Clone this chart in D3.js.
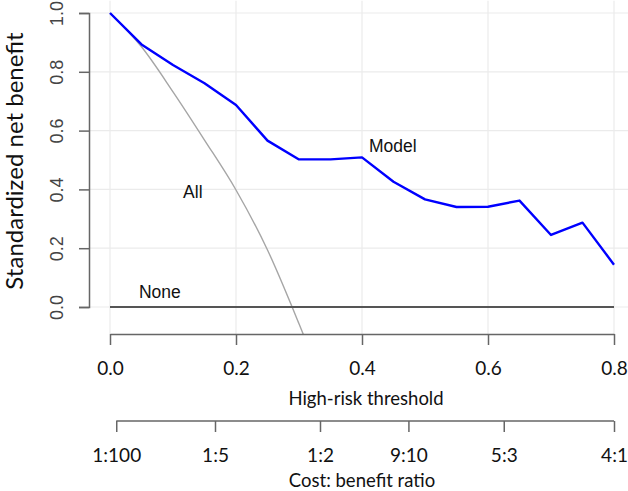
<!DOCTYPE html>
<html>
<head>
<meta charset="utf-8">
<script src="https://cdn.jsdelivr.net/npm/d3@7"></script>
<style>
  body { margin: 0; background: #fff; }
  svg { display: block; }
</style>
</head>
<body>
<svg id="chart" width="628" height="491"></svg>
<script>
// thresholds where the model net benefit was evaluated
const thresholds = [0, 0.05, 0.1, 0.15, 0.2, 0.25, 0.3, 0.35, 0.4, 0.45, 0.5, 0.55, 0.6, 0.65, 0.7, 0.75, 0.8];
const modelNB = [1.0, 0.893, 0.823, 0.761, 0.687, 0.566, 0.502, 0.502, 0.509, 0.426, 0.366, 0.340, 0.341, 0.362, 0.245, 0.287, 0.144];
// treat-all curve (runs off the bottom of the plot)
const allThresholds = [0, 0.05, 0.1, 0.15, 0.2, 0.25, 0.3, 0.35];
const allNB = [1.0, 0.885, 0.732, 0.568, 0.398, 0.194, -0.057, -0.33];
const noneThresholds = [0, 0.8];
const noneNB = [0, 0];

const xTicks = [0, 0.2, 0.4, 0.6, 0.8];
const yTicks = [0, 0.2, 0.4, 0.6, 0.8, 1.0];
const costBenefitLabels = ["1:100", "1:5", "1:2", "9:10", "5:3", "4:1"];

const svg = d3.select("#chart");

const x = d3.scaleLinear().domain([0, 0.8]).range([110, 614]);
const y = d3.scaleLinear().domain([0, 1]).range([307, 13]);

// plot region (R style 4% extension)
const px0 = x(-0.032), px1 = x(0.832);
const py0 = y(1.042), py1 = y(-0.092);

svg.append("clipPath").attr("id", "plotclip")
  .append("rect")
  .attr("x", px0).attr("y", py0)
  .attr("width", px1 - px0).attr("height", py1 - py0);

// grid
const grid = svg.append("g").attr("stroke", "#ebebeb").attr("stroke-width", 1.2);
grid.selectAll(".gy").data(yTicks).enter().append("line")
  .attr("x1", px0).attr("x2", px1)
  .attr("y1", d => y(d)).attr("y2", d => y(d));
grid.selectAll(".gx").data(xTicks).enter().append("line")
  .attr("x1", d => x(d)).attr("x2", d => x(d))
  .attr("y1", py0).attr("y2", py1);

const line = d3.line()
  .x(d => x(d[0]))
  .y(d => y(d[1]));

const plot = svg.append("g").attr("clip-path", "url(#plotclip)");

plot.append("path")
  .datum(allThresholds.map((t, i) => [t, allNB[i]]))
  .attr("d", line.curve(d3.curveMonotoneX))
  .attr("fill", "none")
  .attr("stroke", "#a6a6a6")
  .attr("stroke-width", 1.4);
line.curve(d3.curveLinear);

plot.append("path")
  .datum(noneThresholds.map((t, i) => [t, noneNB[i]]))
  .attr("d", line)
  .attr("fill", "none")
  .attr("stroke", "#555")
  .attr("stroke-width", 2);

plot.append("path")
  .datum(thresholds.map((t, i) => [t, modelNB[i]]))
  .attr("d", line)
  .attr("fill", "none")
  .attr("stroke", "#0000ff")
  .attr("stroke-width", 2.4)
  .attr("stroke-linejoin", "round");

// curve labels
const labels = svg.append("g")
  .attr("font-family", "'Liberation Sans', Arial, sans-serif")
  .attr("font-size", 17.5)
  .attr("fill", "#111");
labels.append("text").attr("x", x(0.411)).attr("y", y(0.527)).text("Model");
labels.append("text").attr("x", x(0.116)).attr("y", y(0.371)).text("All");
labels.append("text").attr("x", x(0.046)).attr("y", y(0.032)).text("None");

// y axis
const yAxis = svg.append("g")
  .attr("transform", "translate(89,0)")
  .call(d3.axisLeft(y).tickValues(yTicks).tickSize(10).tickFormat(d3.format(".1f")));
yAxis.select(".domain").attr("stroke", "#666").attr("stroke-width", 1.5);
yAxis.selectAll(".tick line").attr("stroke", "#666").attr("stroke-width", 1.5);
yAxis.selectAll(".tick text")
  .attr("font-family", "'Liberation Sans', Arial, sans-serif")
  .attr("font-size", 18)
  .attr("fill", "#444")
  .attr("transform", "rotate(-90)")
  .attr("x", 0).attr("y", -32)
  .attr("dy", "0.35em")
  .attr("text-anchor", "middle");

svg.append("text")
  .attr("transform", `translate(23,${(y(0) + y(1)) / 2 + 1}) rotate(-90)`)
  .attr("text-anchor", "middle")
  .attr("font-family", "Lato, 'Open Sans', sans-serif")
  .attr("font-size", 24)
  .attr("fill", "#111")
  .text("Standardized net benefit");

// x axis: high-risk threshold
const xAxis = svg.append("g")
  .attr("transform", "translate(0,334)")
  .call(d3.axisBottom(x).tickValues(xTicks).tickSize(11).tickSizeOuter(0).tickFormat(d3.format(".1f")));
xAxis.select(".domain").attr("stroke", "#666").attr("stroke-width", 1.5);
xAxis.selectAll(".tick line").attr("stroke", "#666").attr("stroke-width", 1.5);
xAxis.selectAll(".tick text")
  .attr("font-family", "Lato, 'Open Sans', sans-serif")
  .attr("font-size", 19)
  .attr("fill", "#111")
  .attr("y", 34)
  .attr("dy", "0.35em");

svg.append("text")
  .attr("x", (x(0) + x(0.8)) / 2 + 4).attr("y", 399).attr("dy", "0.35em")
  .attr("text-anchor", "middle")
  .attr("font-family", "Lato, 'Open Sans', sans-serif")
  .attr("font-size", 18.5)
  .attr("fill", "#111")
  .text("High-risk threshold");

// cost:benefit axis
const cbPos = costBenefitLabels.map(s => {
  const [c, b] = s.split(":").map(Number);
  return c / (c + b);
});
const cbAxis = svg.append("g")
  .attr("transform", "translate(0,421)")
  .call(d3.axisBottom(x).tickValues(cbPos).tickSize(11).tickSizeOuter(0)
    .tickFormat((d, i) => costBenefitLabels[i]));
cbAxis.select(".domain")
  .attr("d", `M${x(cbPos[0])},0H${x(cbPos[cbPos.length - 1])}`)
  .attr("stroke", "#666").attr("stroke-width", 1.5);
cbAxis.selectAll(".tick line").attr("stroke", "#666").attr("stroke-width", 1.5);
cbAxis.selectAll(".tick text")
  .attr("font-family", "Lato, 'Open Sans', sans-serif")
  .attr("font-size", 19)
  .attr("fill", "#111")
  .attr("y", 34)
  .attr("dy", "0.35em");

svg.append("text")
  .attr("x", (x(0) + x(0.8)) / 2).attr("y", 481).attr("dy", "0.35em")
  .attr("text-anchor", "middle")
  .attr("font-family", "Lato, 'Open Sans', sans-serif")
  .attr("font-size", 18.5)
  .attr("fill", "#111")
  .text("Cost: benefit ratio");
</script>
</body>
</html>
